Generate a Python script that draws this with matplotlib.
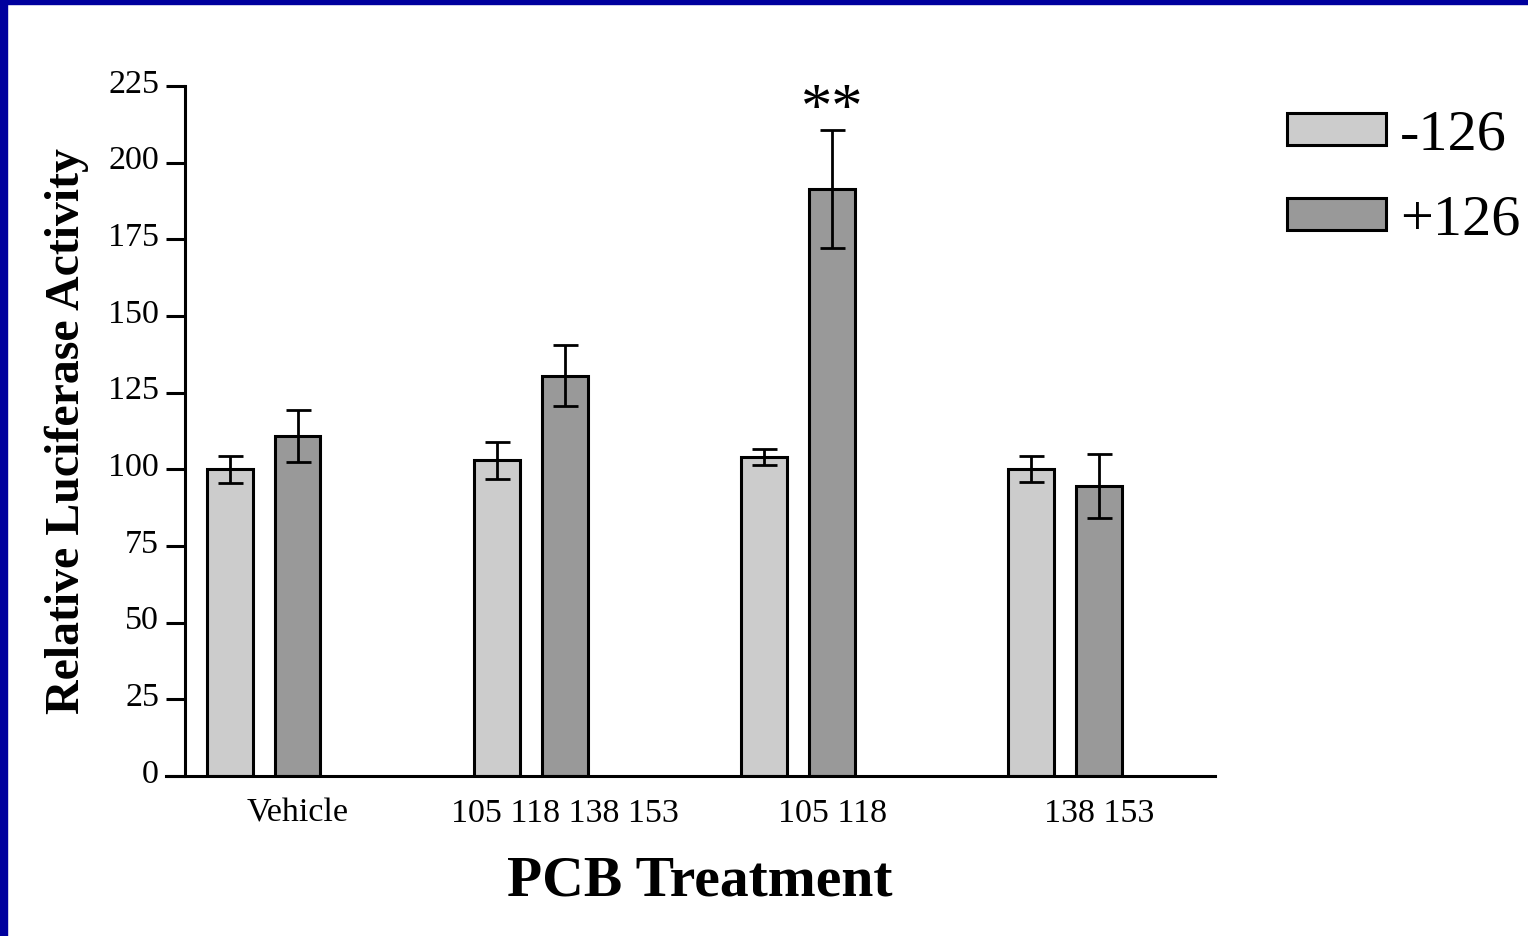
import matplotlib
matplotlib.use("Agg")
import matplotlib.pyplot as plt
from matplotlib.patches import Rectangle
from matplotlib.transforms import ScaledTranslation
import numpy as np

# Data
treatments = ["Vehicle", "105 118 138 153", "105 118", "138 153"]
minus_126 = [100, 103, 104, 100]
minus_126_err = [4.5, 6, 2.6, 4.2]
plus_126 = [111, 130.5, 191.5, 94.6]
plus_126_err = [8.5, 10, 19.2, 10.4]
series_labels = ["-126", "+126"]
y_ticks = [0, 25, 50, 75, 100, 125, 150, 175, 200, 225]
significance = {2: "**"}

plt.rcParams["font.family"] = ["Liberation Serif", "DejaVu Serif"]

W, H, DPI = 1528, 936, 100
fig = plt.figure(figsize=(W / DPI, H / DPI), dpi=DPI)
fig.patch.set_facecolor("white")

# Dark blue frame on left and top edges
border = "#00009E"
fig.patches.append(Rectangle((0, 0), 7 / W, 1, transform=fig.transFigure,
                             color=border, zorder=10))
fig.patches.append(Rectangle((0, 1 - 4 / H), 1, 4 / H, transform=fig.transFigure,
                             color=border, zorder=10))

ax = fig.add_axes([185 / W, 1 - 776 / H, (1215 - 185) / W, (776 - 86) / H])

x = np.arange(len(treatments))
width = 0.172
offset = 0.127
lw = 2.2

err_kw = dict(ecolor="black", elinewidth=2.0, capsize=9, capthick=2.0)
b1 = ax.bar(x - offset, minus_126, width, yerr=minus_126_err, color="#CCCCCC",
            edgecolor="black", linewidth=lw, label=series_labels[0], error_kw=err_kw,
            zorder=2)
b2 = ax.bar(x + offset, plus_126, width, yerr=plus_126_err, color="#999999",
            edgecolor="black", linewidth=lw, label=series_labels[1], error_kw=err_kw,
            zorder=2)

for i, mark in significance.items():
    ax.text(x[i] + offset, plus_126[i] + plus_126_err[i] - 3.5, mark,
            ha="center", va="bottom", fontsize=45)

ax.set_xlim(-0.294, 3.56)
ax.set_ylim(0, 225)
ax.set_yticks(y_ticks)
ax.set_yticklabels([str(t) for t in y_ticks], fontsize=24.5)
ax.set_xticks(x + offset)
ax.set_xticklabels(treatments, fontsize=24.5)
ax.tick_params(axis="x", length=0, pad=16)
ax.tick_params(axis="y", length=13.7, width=lw, pad=5)

# Lift the y tick labels slightly above their ticks
lift = ScaledTranslation(0, 3.6 / 72, fig.dpi_scale_trans)
for lab in ax.get_yticklabels():
    lab.set_transform(lab.get_transform() + lift)

for side in ["top", "right"]:
    ax.spines[side].set_visible(False)
for side in ["left", "bottom"]:
    ax.spines[side].set_linewidth(lw)
ax.spines["bottom"].set_bounds(-0.294 - 19 / 267.3, 3.56)
ax.spines["bottom"].set_zorder(3)

ax.set_ylabel("Relative Luciferase Activity", fontsize=34.5, fontweight="bold",
              labelpad=14)
ax.set_xlabel("PCB Treatment", fontsize=41.5, fontweight="bold", labelpad=19)

leg = ax.legend(handles=[b1, b2], labels=series_labels, loc="upper left",
                bbox_to_anchor=(1287 / W, 1 - 110 / H), bbox_transform=fig.transFigure,
                frameon=False, fontsize=42, handlelength=1.69, handleheight=0.47,
                handletextpad=0.25, labelspacing=0.56, borderaxespad=0, borderpad=0)
for h in leg.legend_handles:
    h.set_linewidth(lw)

fig.savefig("out.png", dpi=DPI, facecolor=fig.get_facecolor())
